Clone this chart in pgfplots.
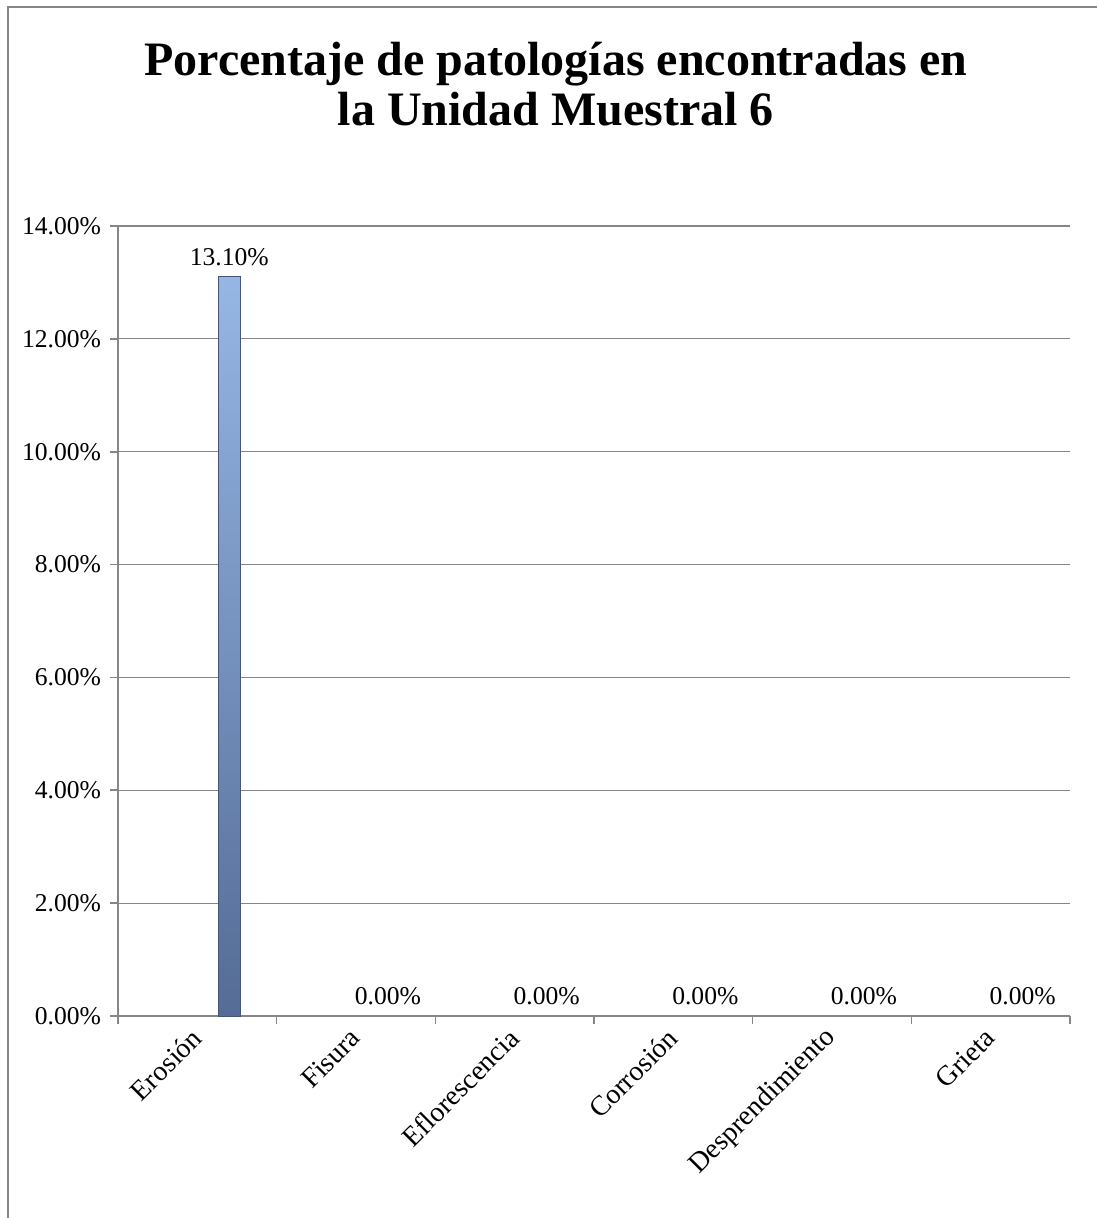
\documentclass[border=0pt]{standalone}
\usepackage{fontspec}
\setmainfont{Liberation Serif}
\usepackage{pgfplots}
\pgfplotsset{compat=1.18}
\definecolor{gridgray}{RGB}{134,134,134}
\definecolor{bartop}{RGB}{150,182,228}
\definecolor{barbot}{RGB}{84,108,150}
\begin{document}
\begin{tikzpicture}
\path[use as bounding box] (0,0) rectangle (548.5pt,-609pt);
\draw[gridgray, line width=0.8pt] (4pt,-609pt) -- (4pt,-3.5pt) -- (548.5pt,-3.5pt);
\node[font=\fontsize{24}{25}\selectfont\bfseries, align=center] at (278pt,-42pt) {Porcentaje de patologías encontradas en\\la Unidad Muestral 6};
\begin{axis}[
  at={(59pt,-508pt)}, anchor=south west,
  scale only axis, width=476pt, height=395pt,
  xmin=-0.5, xmax=5.5, ymin=0, ymax=14,
  axis x line*=bottom, axis y line*=left,
  axis line style={gridgray, line width=0.8pt},
  ymajorgrids, major grid style={gridgray, line width=0.6pt},
  ytick={0,2,...,14},
  tick style={gridgray, line width=0.8pt},
  tick align=outside, major tick length=4pt,
  yticklabel={\pgfmathprintnumber[fixed,fixed zerofill,precision=2]{\tick}\%},
  /pgf/number format/assume math mode=true,
  xtick={-0.5,0.5,...,5.5},
  xticklabels={},
  extra x ticks={0,...,5},
  extra x tick labels={Erosión,Fisura,Eflorescencia,Corrosión,Desprendimiento,Grieta},
  extra x tick style={major tick length=0pt, tick label style={font=\fontsize{14}{16}\selectfont, rotate=45, anchor=east, yshift=-6pt, xshift=-3pt}},
  ticklabel style={font=\fontsize{12.8}{14}\selectfont},
  yticklabel style={xshift=-1pt},
  ybar, bar width=11pt, bar shift=16pt,
  nodes near coords={\pgfmathprintnumber[fixed,fixed zerofill,precision=2]{\pgfplotspointmeta}\%},
  nodes near coords style={font=\fontsize{12.8}{14}\selectfont, /pgf/number format/assume math mode=true, yshift=2pt},
  clip=false,
]
\addplot[draw=barbot!80!black, line width=0.4pt, top color=bartop, bottom color=barbot] coordinates {(0,13.10)};
\addplot[draw=none, fill=none] coordinates {(1,0) (2,0) (3,0) (4,0) (5,0)};
\end{axis}
\end{tikzpicture}
\end{document}
